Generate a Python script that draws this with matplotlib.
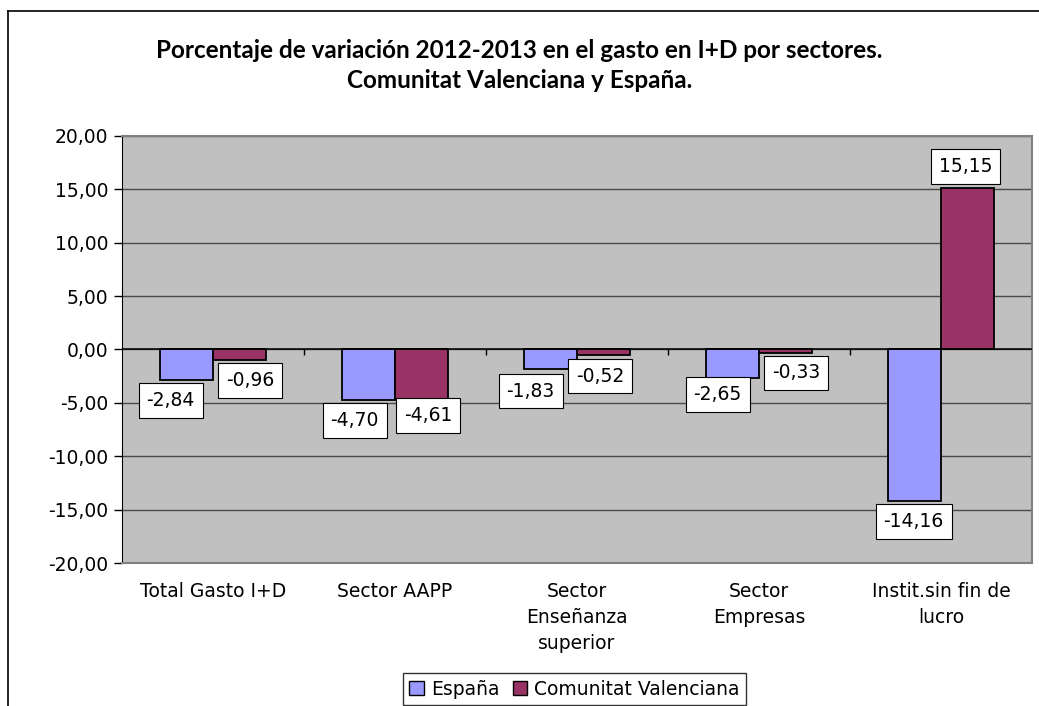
import matplotlib
matplotlib.use('Agg')
import matplotlib.pyplot as plt
from matplotlib.lines import Line2D
from matplotlib.patches import Patch
import numpy as np

# data
categories = ['Total Gasto I+D', 'Sector AAPP', 'Sector\nEnseñanza\nsuperior',
              'Sector\nEmpresas', 'Instit.sin fin de\nlucro']
espana = [-2.84, -4.70, -1.83, -2.65, -14.16]
valenciana = [-0.96, -4.61, -0.52, -0.33, 15.15]
series_names = ['España', 'Comunitat Valenciana']

# label box nudges (pixels) so the boxes sit like in the original
es_offsets = [(-16, -21), (-14, -21), (-20, -22), (-15, -17), (-1, -21)]
cv_offsets = [(11, -21), (7, -17), (-3, -21), (11, -20), (-2, 21)]

blue = '#9999FF'
maroon = '#993366'
fs = 13.5

fig = plt.figure(figsize=(10.39, 7.06), dpi=100)
ax = fig.add_axes([0.1174, 0.2025, 0.876, 0.605])
ax.set_facecolor('#C0C0C0')

x = np.arange(len(categories))
w = 0.29
bars_es = ax.bar(x - w / 2, espana, w, color=blue, edgecolor='black', linewidth=1.3, zorder=3)
bars_cv = ax.bar(x + w / 2, valenciana, w, color=maroon, edgecolor='black', linewidth=1.3, zorder=3)

# value labels in white boxes
def fmt(v):
    return f'{v:.2f}'.replace('.', ',')

for bars, vals, offs in [(bars_es, espana, es_offsets), (bars_cv, valenciana, cv_offsets)]:
    for b, v, (dx, dy) in zip(bars, vals, offs):
        ax.annotate(fmt(v), (b.get_x() + b.get_width() / 2, v),
                    xytext=(dx, dy), textcoords='offset pixels',
                    ha='center', va='center', fontsize=fs, zorder=5,
                    bbox=dict(boxstyle='square,pad=0.42', fc='white', ec='black', lw=0.8))

ax.set_xlim(-0.5, len(categories) - 0.5)
ax.set_ylim(-20, 20)
yt = np.arange(-20, 21, 5)
ax.set_yticks(yt)
ax.set_yticklabels([fmt(v) for v in yt], fontsize=fs)
ax.yaxis.grid(True, color='#4a4a4a', linewidth=1, zorder=1)
ax.set_axisbelow(True)
ax.tick_params(axis='y', direction='out', length=6, width=1, color='black', pad=4)

ax.set_xticks(x)
ax.set_xticklabels(categories, fontsize=fs, linespacing=1.45, va='top')
ax.tick_params(axis='x', length=0, pad=14)

# category axis at zero with small tick marks between groups
ax.axhline(0, color='black', linewidth=1.1, zorder=4)
ax.vlines(np.arange(0.5, len(categories) - 0.5, 1), -0.5, 0, color='black', linewidth=1, zorder=4)

for side in ['top', 'right', 'bottom']:
    ax.spines[side].set_color('#808080')
    ax.spines[side].set_linewidth(1.5)
ax.spines['left'].set_color('black')

fig.suptitle('Porcentaje de variación 2012-2013 en el gasto en I+D por sectores.\n'
             'Comunitat Valenciana y España.',
             x=0.5, y=0.945, fontsize=17.5, fontweight='bold', family='Lato',
             linespacing=1.4, va='top')

handles = [Patch(facecolor=blue, edgecolor='black'), Patch(facecolor=maroon, edgecolor='black')]
fig.legend(handles, series_names, loc='center', bbox_to_anchor=(0.553, 0.024),
           ncol=2, fontsize=fs, frameon=True, fancybox=False, edgecolor='black',
           handlelength=0.75, handleheight=0.75, handletextpad=0.4, columnspacing=0.7,
           borderpad=0.35)

# outer chart frame (top and left edges visible)
fig.add_artist(Line2D([8 / 1039, 1.0], [1 - 11 / 706, 1 - 11 / 706], color='black', lw=1.2))
fig.add_artist(Line2D([8 / 1039, 8 / 1039], [0, 1 - 11 / 706], color='black', lw=1.2))

fig.savefig('out.png', dpi=100)
